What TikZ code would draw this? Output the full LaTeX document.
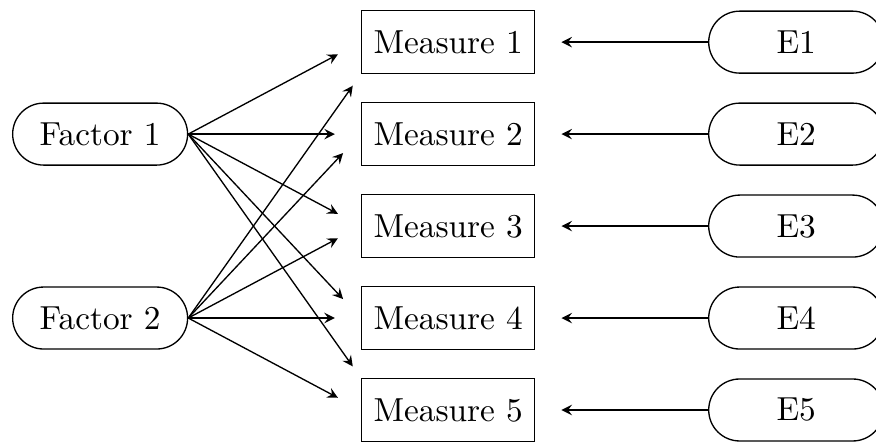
\documentclass[tikz,border=0pt]{standalone}
\usepackage{tikz}
\usetikzlibrary{shapes.geometric, arrows}
\usetikzlibrary{matrix, calc}
\tikzstyle{arrow} = [thin,->,>=stealth,shorten >=7.8pt]
\tikzstyle{measure} = [draw, thin, rectangle, minimum width=52pt, minimum height=18.9pt]
\tikzstyle{latent} = [draw, thin, rounded corners=9.3pt, minimum width=52.5pt, minimum height=18.6pt]

\begin{document}
\begin{tikzpicture}
        % Factors, measures and errors
        \matrix (m) [matrix of nodes, nodes={anchor=center}, column sep=51.8pt, row sep=8.3pt,
            column 1/.style={nodes={latent}}, column 2/.style={nodes={measure}}, column 3/.style={nodes={latent}}] {
                     & Measure 1 & E1 \\
            Factor 1 & Measure 2 & E2 \\
                     & Measure 3 & E3 \\
            Factor 2 & Measure 4 & E4 \\
                     & Measure 5 & E5 \\
        };
        % Loadings
        \draw[arrow] (m-2-1.east) -- (m-1-2.west);
        \draw[arrow] (m-2-1.east) -- (m-2-2.west);
        \draw[arrow] (m-2-1.east) -- (m-3-2.west);
        \draw[arrow] (m-2-1.east) -- (m-4-2.west);
        \draw[arrow, shorten >=4.2pt] (m-2-1.east) -- (m-5-2.north west);
        \draw[arrow, shorten >=4.2pt] (m-4-1.east) -- (m-1-2.south west);
        \draw[arrow] (m-4-1.east) -- (m-2-2.west);
        \draw[arrow] (m-4-1.east) -- (m-3-2.west);
        \draw[arrow] (m-4-1.east) -- (m-4-2.west);
        \draw[arrow] (m-4-1.east) -- (m-5-2.west);
        % Errors
        \draw[arrow] (m-1-3.west) -- (m-1-2.east);
        \draw[arrow] (m-2-3.west) -- (m-2-2.east);
        \draw[arrow] (m-3-3.west) -- (m-3-2.east);
        \draw[arrow] (m-4-3.west) -- (m-4-2.east);
        \draw[arrow] (m-5-3.west) -- (m-5-2.east);
        % Frame
        \coordinate (tl) at ($(m-2-1.west |- m-1-2.north)+(-3.6pt,3pt)$);
        \coordinate (br) at ($(m-1-3.west |- m-5-2.south)+(50.4pt,0)$);
        \pgfresetboundingbox
        \useasboundingbox (tl) rectangle (br);
\end{tikzpicture}
\end{document}
